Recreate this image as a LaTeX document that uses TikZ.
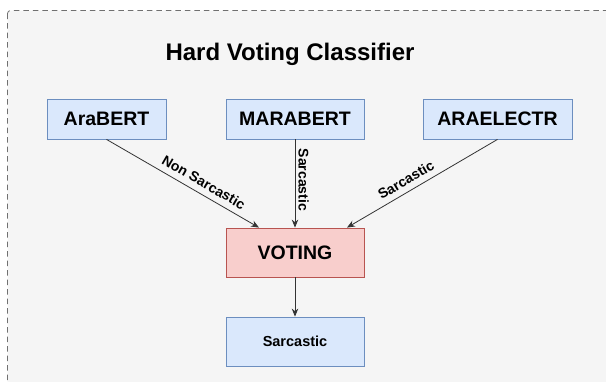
\documentclass[tikz,border=0pt]{standalone}
\usepackage{fontspec}
\setmainfont{Liberation Sans}
\usetikzlibrary{arrows.meta,calc}
\definecolor{bluefill}{HTML}{DAE8FC}
\definecolor{blueline}{HTML}{6C8EBF}
\definecolor{redfill}{HTML}{F8CECC}
\definecolor{redline}{HTML}{B85450}
\definecolor{bgfill}{HTML}{F5F5F5}
\definecolor{dashline}{HTML}{707070}
\definecolor{edgeline}{HTML}{333333}
\begin{document}
\begin{tikzpicture}[x=1pt,y=-1pt,
  box/.style={draw=#1line, fill=#1fill, line width=0.8pt, inner sep=0pt, anchor=center},
  bigtext/.style={font=\fontsize{19.5}{22}\selectfont\bfseries},
  edge/.style={draw=edgeline, line width=0.8pt, -{Stealth[length=8pt,width=6.5pt]}},
  elabel/.style={font=\fontsize{14}{16}\selectfont\bfseries, sloped, inner sep=1pt},
]
\useasboundingbox (0,0) rectangle (606,381);
\draw[dashline, line width=0.8pt, dash pattern=on 5.5pt off 4pt, fill=bgfill, rounded corners=3pt] (7.5,10.5) rectangle (625,400);

\node[font=\fontsize{24}{27}\selectfont\bfseries] (title) at (290,54) {Hard Voting Classifier};

\node[box=blue, bigtext, minimum width=119pt, minimum height=40pt] (arabert) at (106.5,119) {AraBERT};
\node[box=blue, bigtext, minimum width=138pt, minimum height=40pt] (marabert) at (295,119) {MARABERT};
\node[box=blue, bigtext, minimum width=149pt, minimum height=40pt] (araelectr) at (497.5,119) {ARAELECTR};
\node[box=red, bigtext, minimum width=138pt, minimum height=49pt] (voting) at (295,252.5) {VOTING};
\node[box=blue, font=\fontsize{14.5}{17}\selectfont\bfseries, minimum width=138pt, minimum height=49pt] (result) at (295,341.5) {Sarcastic};

\draw[edge] (arabert.south) -- node[elabel, pos=0.6, above=5pt] {Non Sarcastic} ($(voting.north)+(-36,0)$);
\draw[edge] (marabert.south) -- node[elabel, pos=0.46, above=2pt] {Sarcastic} (voting.north);
\draw[edge] (araelectr.south) -- node[elabel, pos=0.57, above=5pt] {Sarcastic} ($(voting.north)+(52,0)$);
\draw[edge] (voting.south) -- (result.north);
\end{tikzpicture}
\end{document}
